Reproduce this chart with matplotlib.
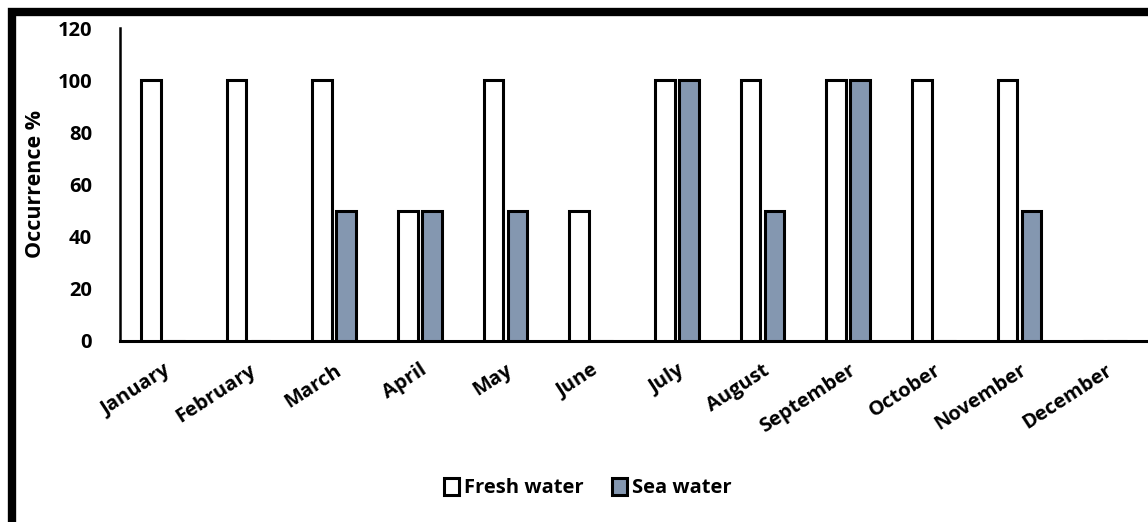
import matplotlib
matplotlib.use("Agg")
from matplotlib import pyplot as plt
from matplotlib.patches import Rectangle
import numpy as np

plt.rcParams['font.family'] = ['Open Sans', 'DejaVu Sans']
plt.rcParams['font.weight'] = 'bold'

months = ["January", "February", "March", "April", "May", "June", "July",
          "August", "September", "October", "November", "December"]
fresh_water = [100, 100, 100, 50, 100, 50, 100, 100, 100, 100, 100, 0]
sea_water = [0, 0, 50, 50, 50, 0, 100, 50, 100, 0, 50, 0]

fig = plt.figure(figsize=(11.48, 5.22), dpi=100)
ax = fig.add_axes([120 / 1148, 181 / 522, 1028 / 1148, 313 / 522])

x = np.arange(len(months))
w = 0.23
ax.bar(x - 0.14, fresh_water, width=w, color="white", edgecolor="black",
       linewidth=2.2, label="Fresh water", zorder=3)
ax.bar(x + 0.14, sea_water, width=w, color="#8497B0", edgecolor="black",
       linewidth=2.2, label="Sea water", zorder=3)

ax.set_xlim(-0.5, 11.5)
ax.set_ylim(0, 120)
ax.set_yticks(range(0, 121, 20))
ax.set_xticks(x)
ax.set_xticklabels(months, rotation=33, ha="right", rotation_mode="anchor")
ax.tick_params(axis="both", length=0, labelsize=14.5)
ax.tick_params(axis="y", pad=20)
ax.tick_params(axis="x", pad=14)
for s in ["top", "right"]:
    ax.spines[s].set_visible(False)
ax.spines["left"].set_linewidth(1.8)
ax.spines["bottom"].set_linewidth(2.2)
ax.set_ylabel("Occurrence %", fontsize=15.5, fontweight="bold", labelpad=8)

fig.legend(loc="center", bbox_to_anchor=(588 / 1148, 1 - 488 / 522), ncol=2,
           frameon=False, fontsize=14.5, handlelength=0.75, handleheight=0.9,
           handletextpad=0.25, columnspacing=1.4)

# thick frame round the picture
fig.patches.append(Rectangle((12 / 1148, -0.2), 1.2, 1 - 12 / 522 + 0.2,
                             transform=fig.transFigure, fill=False,
                             edgecolor="black", linewidth=6))

fig.savefig("out.png", dpi=100)
